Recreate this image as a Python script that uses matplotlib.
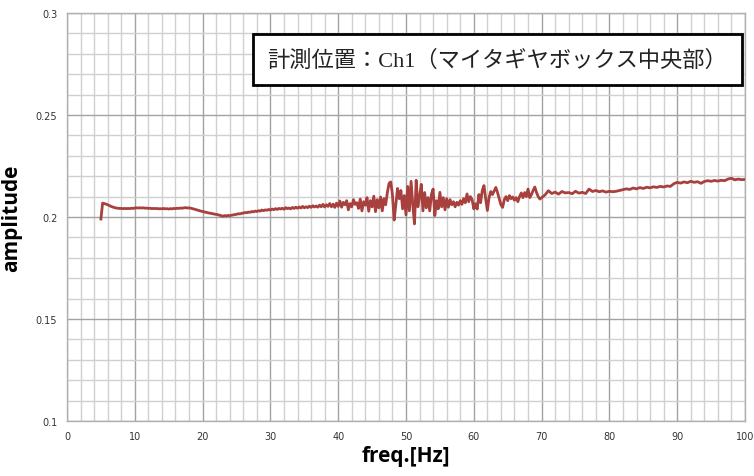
import numpy as np
import matplotlib
matplotlib.use("Agg")
import matplotlib.pyplot as plt
from matplotlib.patches import Rectangle
from matplotlib.ticker import MultipleLocator

# frequencies: 5-70 Hz every 0.25 Hz, 70.5-100 Hz every 0.5 Hz
freq_a = np.arange(5.0, 70.0 + 0.001, 0.25)
freq_b = np.arange(70.5, 100.0 + 0.001, 0.5)

# amplitudes (x 1e-4)
amp_5_20 = [1990, 2068, 2066, 2063, 2060, 2056, 2052, 2049, 2046, 2044, 2043, 2042, 2042, 2041, 2042, 2041,
            2042, 2041, 2043, 2042, 2044, 2045, 2044, 2045, 2044, 2045, 2043, 2044, 2042, 2043, 2041, 2042,
            2041, 2042, 2040, 2041, 2040, 2042, 2040, 2041, 2039, 2041, 2040, 2042, 2041, 2043, 2042, 2044,
            2043, 2045, 2046, 2044, 2045, 2043, 2041, 2039, 2036, 2034, 2031, 2029, 2027]
amp_20_30 = [2025, 2023, 2021, 2019, 2018, 2016, 2014, 2013, 2011, 2009, 2006, 2004, 2007, 2005, 2008, 2006,
             2009, 2010, 2012, 2013, 2016, 2015, 2018, 2019, 2022, 2021, 2024, 2023, 2027, 2025, 2029, 2027,
             2031, 2029, 2034, 2031, 2035, 2033, 2037, 2034]
amp_30_40 = [2039, 2036, 2041, 2037, 2042, 2039, 2043, 2038, 2046, 2041, 2044, 2040, 2047, 2042, 2048, 2043,
             2049, 2044, 2052, 2045, 2050, 2046, 2053, 2047, 2055, 2049, 2054, 2048, 2058, 2050, 2062, 2049,
             2060, 2052, 2066, 2050, 2063, 2047, 2068, 2052]
amp_40_50 = [2078, 2048, 2072, 2060, 2080, 2035, 2066, 2050, 2085, 2062, 2070, 2042, 2088, 2030, 2075, 2058,
             2095, 2028, 2080, 2050, 2102, 2026, 2085, 2045, 2098, 2030, 2090, 2060, 2120, 2165, 2172, 2110,
             1985, 2060, 2140, 2090, 2130, 2040, 2105, 2010]
amp_50_60 = [2150, 2030, 2175, 2060, 1966, 2180, 2050, 2100, 2160, 2030, 2120, 2045, 2095, 2030, 2110, 2137,
             2007, 2080, 2040, 2121, 2050, 2095, 2035, 2090, 2048, 2085, 2060, 2075, 2050, 2072, 2058, 2080,
             2062, 2090, 2070, 2113, 2075, 2100, 2085, 2040]
amp_60_70 = [2065, 2039, 2110, 2070, 2130, 2154, 2090, 2032, 2095, 2125, 2110, 2128, 2145, 2120, 2090, 2060,
             2047, 2085, 2100, 2080, 2105, 2090, 2098, 2082, 2095, 2075, 2100, 2118, 2095, 2120, 2100, 2137,
             2095, 2110, 2130, 2147, 2120, 2100, 2088, 2095]
amp_70_100 = [2108, 2129, 2115, 2122, 2112, 2125, 2118, 2120, 2114, 2126, 2117, 2121, 2115, 2137, 2125, 2130,
              2124, 2128, 2122, 2126, 2124, 2126, 2130, 2134, 2138, 2135, 2142, 2138, 2144, 2140, 2146, 2143,
              2148, 2145, 2150, 2147, 2152, 2150, 2163, 2170, 2166, 2172, 2168, 2175, 2170, 2173, 2165, 2174,
              2178, 2175, 2179, 2176, 2180, 2178, 2186, 2190, 2182, 2186, 2183, 2184]

x_ticks = [0, 10, 20, 30, 40, 50, 60, 70, 80, 90, 100]
y_ticks = [0.1, 0.15, 0.2, 0.25, 0.3]
y_tick_labels = ["0.1", "0.15", "0.2", "0.25", "0.3"]
title_text = "計測位置：Ch1（マイタギヤボックス中央部）"
x_label = "freq.[Hz]"
y_label = "amplitude"

freq = np.concatenate([freq_a, freq_b])
amp = np.array(amp_5_20 + amp_20_30 + amp_30_40 + amp_40_50 + amp_50_60 + amp_60_70 + amp_70_100) / 10000.0

fig = plt.figure(figsize=(7.54, 4.77), dpi=100)
ax = fig.add_axes([67 / 754, 1 - 422 / 477, (745 - 67) / 754, (422 - 14) / 477])

ax.set_xlim(0, 100)
ax.set_ylim(0.1, 0.3)
ax.xaxis.set_minor_locator(MultipleLocator(2))
ax.yaxis.set_minor_locator(MultipleLocator(0.01))
ax.set_xticks(x_ticks)
ax.set_yticks(y_ticks)
ax.set_yticklabels(y_tick_labels)

ax.grid(which="minor", color="#d0d0d0", linewidth=1.0)
ax.grid(which="major", color="#a2a2a2", linewidth=1.0)
ax.set_axisbelow(True)
ax.tick_params(which="both", length=0, labelsize=7, colors="#333333", pad=7)
for s in ax.spines.values():
    s.set_color("#b0b0b0")
    s.set_linewidth(1.0)

ax.plot(freq, amp, color="#a8403d", linewidth=2.0, zorder=3)

ax.set_xlabel(x_label, fontsize=15, fontweight="bold", family="Open Sans", labelpad=3)
ax.set_ylabel(y_label, fontsize=15, fontweight="bold", family="Open Sans", labelpad=10)

# title box
box = Rectangle((253 / 754, 1 - 86 / 477), (742 - 253) / 754, (86 - 35) / 477,
                transform=fig.transFigure, facecolor="white", edgecolor="black", linewidth=2, zorder=5)
fig.patches.append(box)
fig.text((253 + 742) / 2 / 754, 1 - 61 / 477, title_text, ha="center", va="center",
         fontsize=16, family=["Liberation Serif", "Noto Sans CJK JP"], color="#222222", zorder=6)

fig.savefig("out.png", dpi=100)
